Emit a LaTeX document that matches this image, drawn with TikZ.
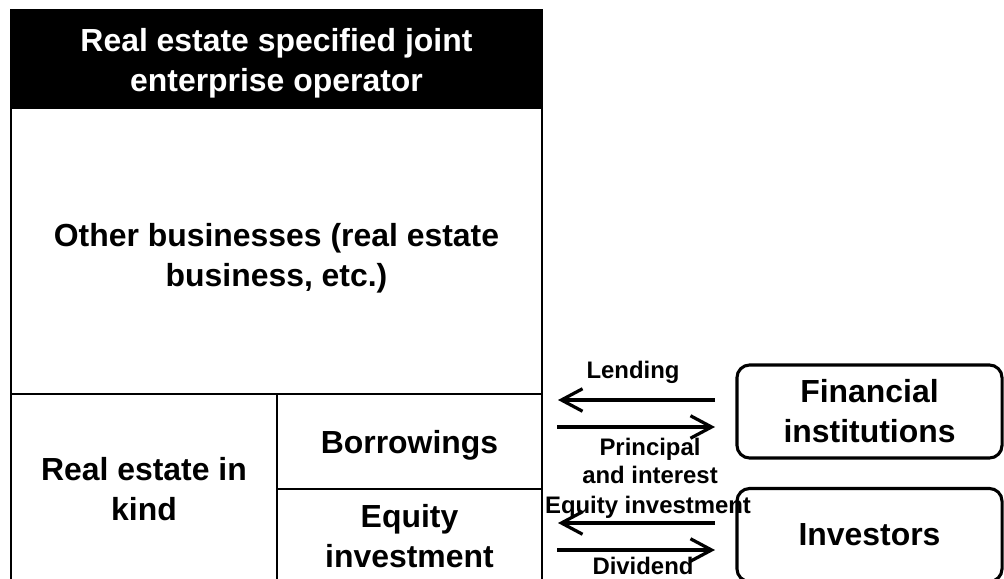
\documentclass[tikz,border=0pt]{standalone}
\usepackage{fontspec}
\setmainfont{Liberation Sans}
\usetikzlibrary{positioning,arrows.meta}

\begin{document}
\begin{tikzpicture}[x=0.025cm,y=-0.025cm,
    cell/.style={draw,line width=1.4pt,inner sep=0pt},
    celltxt/.style={inner sep=0pt,align=center,font=\fontsize{22.7}{28.5}\selectfont\bfseries},
    party/.style={draw,line width=2.2pt,rounded corners=9pt,inner sep=0pt,
      align=center,minimum width=6.625cm,minimum height=2.325cm,
      font=\fontsize{22.7}{28.5}\selectfont\bfseries},
    flow/.style={line width=2.3pt,-{Straight Barb[length=15pt,width=16pt,line width=2.3pt]}},
    flowlbl/.style={inner sep=0pt,align=center,font=\fontsize{17}{20}\selectfont\bfseries}]
  \useasboundingbox (0,0) rectangle (1004,578);
  \clip (0,0) rectangle (1004,578);

  % operator and its balance sheet
  \node[cell,fill=black,minimum width=13.275cm,minimum height=2.45cm,
    label={[celltxt,text=white,yshift=-3pt,name=headtxt]center:{Real estate specified joint\\enterprise operator}}]
    (head) at (276.5,59) {};
  \node[cell,minimum width=13.275cm,minimum height=7.15cm,
    label={[celltxt,yshift=-5pt,name=othertxt]center:{Other businesses (real estate\\business, etc.)}}]
    (other) at (276.5,251) {};
  \node[cell,minimum width=6.65cm,minimum height=4.75cm,
    label={[celltxt,name=kindtxt]center:{Real estate in\\kind}}]
    (kind) at (144,489) {};
  \node[cell,minimum width=6.625cm,minimum height=2.375cm,
    label={[celltxt,yshift=-3pt,name=borrowtxt]center:{Borrowings}}]
    (borrow) at (409.5,441.5) {};
  \node[cell,minimum width=6.625cm,minimum height=2.375cm,
    label={[celltxt,name=equitytxt]center:{Equity\\investment}}]
    (equity) at (409.5,536.5) {};

  % money flows
  \node[flowlbl] (lendlbl) at (633,372) {Lending};
  \node[flowlbl] (replbl) at (650,461) {Principal\\and interest};
  \node[flowlbl] (eqlbl) at (648,507) {Equity investment};
  \node[flowlbl] (divlbl) at (643,566) {Dividend};

  \coordinate (lendR) at (715,400);  \coordinate (lendL) at (558,400);
  \coordinate (repL) at (557,427);   \coordinate (repR) at (715,427);
  \coordinate (eqR) at (715,523);    \coordinate (eqL) at (558,523);
  \coordinate (divL) at (557,550);   \coordinate (divR) at (715,550);
  \draw[flow] (lendR) -- (lendL);
  \draw[flow] (repL) -- (repR);
  \draw[flow] (eqR) -- (eqL);
  \draw[flow] (divL) -- (divR);

  % counterparties
  \node[party] (fin) at (869.5,411.5) {Financial\\institutions};
  \node[party] (inv) at (869.5,535) {Investors};
\end{tikzpicture}
\end{document}
